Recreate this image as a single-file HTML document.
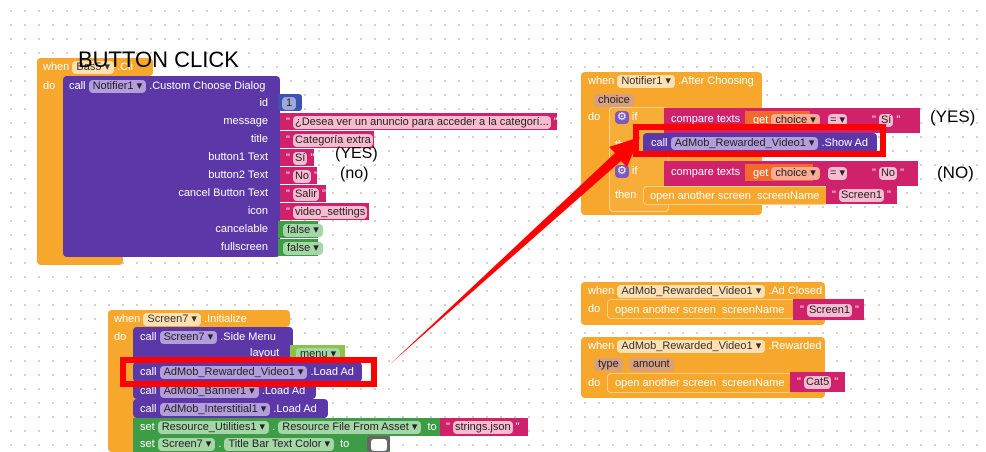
<!DOCTYPE html>
<html><head><meta charset="utf-8"><style>
body{margin:0;width:986px;height:452px;overflow:hidden;background:#fff;background-image:radial-gradient(#c8c8c8 0.8px,transparent 1.2px);background-size:14px 14px;background-position:4px 4px;position:relative;font-family:"Liberation Sans",sans-serif;font-size:11px;color:#fff}
div{position:absolute;box-sizing:border-box}
.o{background:#F6A72C;border-radius:4px}
.p{background:#5B37A8;border-radius:4px}
.m{background:#D0226B}
.g{background:#3E9B46}
.b{background:#3F52B0}
.t{white-space:nowrap;line-height:14px}
.pl{display:inline-block;background:rgba(255,255,255,.45);color:#222;border-radius:4px;padding:0 4px;line-height:13px}
.po{display:inline-block;background:#FFE0B2;color:#333;border-radius:4px;padding:0 4px;line-height:13px}
.pp{display:inline-block;background:#B39DDB;color:#222;border-radius:4px;padding:0 4px;line-height:13px}
.pg{display:inline-block;background:#A5D6A7;color:#222;border-radius:4px;padding:0 4px;line-height:13px}
.pm{display:inline-block;background:#F8BBD0;color:#222;border-radius:4px;padding:0 2px;line-height:13px}
.big{color:#000;font-family:"Liberation Sans",sans-serif;white-space:nowrap}
.rr{border:6px solid #f00;background:transparent}
</style></head><body>

<!-- Block 1 -->
<div class="o" style="left:37px;top:58px;width:116px;height:18px"></div>
<div class="o" style="left:37px;top:58px;width:86px;height:207px"></div>
<div class="t" style="left:43px;top:60px;color:#fff">when <span class="po">Bas5 ▾</span> .Cli</div>
<div class="t" style="left:43px;top:79px">do</div>
<div class="p" style="left:63px;top:76px;width:217px;height:181px"></div>
<div class="t" style="left:69px;top:79px">call <span class="pp">Notifier1 ▾</span> .Custom Choose Dialog</div>
<div class="t" style="left:60px;top:96px;width:208px;text-align:right">id</div>
<div class="t" style="left:60px;top:114px;width:208px;text-align:right">message</div>
<div class="t" style="left:60px;top:132px;width:208px;text-align:right">title</div>
<div class="t" style="left:60px;top:150px;width:208px;text-align:right">button1 Text</div>
<div class="t" style="left:60px;top:168px;width:208px;text-align:right">button2 Text</div>
<div class="t" style="left:60px;top:186px;width:208px;text-align:right">cancel Button Text</div>
<div class="t" style="left:60px;top:204px;width:208px;text-align:right">icon</div>
<div class="t" style="left:60px;top:222px;width:208px;text-align:right">cancelable</div>
<div class="t" style="left:60px;top:240px;width:208px;text-align:right">fullscreen</div>
<div class="b" style="left:278px;top:94px;width:24px;height:17px;border-radius:3px"></div>
<div class="t" style="left:282px;top:96px"><span class="pl" style="background:#9FA8DA">1</span></div>
<div class="m" style="left:280px;top:113px;width:277px;height:17px"></div>
<div class="t" style="left:286px;top:115px">" <span class="pm">¿Desea ver un anuncio para acceder a la categorí...</span> "</div>
<div class="m" style="left:280px;top:131px;width:94px;height:17px"></div>
<div class="t" style="left:286px;top:133px">" <span class="pm">Categoría extra</span> "</div>
<div class="m" style="left:280px;top:149px;width:34px;height:17px"></div>
<div class="t" style="left:286px;top:151px">" <span class="pm">Sí</span> "</div>
<div class="m" style="left:280px;top:167px;width:37px;height:17px"></div>
<div class="t" style="left:286px;top:169px">" <span class="pm">No</span> "</div>
<div class="m" style="left:280px;top:185px;width:46px;height:17px"></div>
<div class="t" style="left:286px;top:187px">" <span class="pm">Salir</span> "</div>
<div class="m" style="left:280px;top:203px;width:89px;height:17px"></div>
<div class="t" style="left:286px;top:205px">" <span class="pm">video_settings</span> "</div>
<div class="g" style="left:278px;top:221px;width:40px;height:17px"></div>
<div class="t" style="left:283px;top:223px"><span class="pg">false ▾</span></div>
<div class="g" style="left:278px;top:239px;width:40px;height:17px"></div>
<div class="t" style="left:283px;top:241px"><span class="pg">false ▾</span></div>
<div class="big" style="left:78px;top:47px;font-size:22px;line-height:26px">BUTTON CLICK</div>
<div class="big" style="left:335px;top:145px;font-size:16px">(YES)</div>
<div class="big" style="left:340px;top:165px;font-size:16px">(no)</div>

<!-- Block 2 -->
<div class="o" style="left:581px;top:72px;width:181px;height:143px"></div>
<div class="t" style="left:588px;top:74px">when <span class="po">Notifier1 ▾</span> .After Choosing</div>
<div class="t" style="left:594px;top:93px"><span class="pl" style="background:#D7A080">choice</span></div>
<div class="t" style="left:588px;top:110px">do</div>
<div style="left:609px;top:107px;width:60px;height:105px;background:#F7AE38;border-radius:4px;border:1px solid #fcd08a"></div>
<div class="t" style="left:615px;top:110px"><span class="pl" style="background:#7E57C2;color:#fff;padding:0 2px">⚙</span> if</div>
<div class="t" style="left:615px;top:138px">then</div>
<div class="t" style="left:615px;top:164px"><span class="pl" style="background:#7E57C2;color:#fff;padding:0 2px">⚙</span> if</div>
<div class="t" style="left:615px;top:188px">then</div>
<div class="m" style="left:664px;top:108px;width:256px;height:25px"></div>
<div class="t" style="left:671px;top:112px">compare texts</div>
<div style="left:745px;top:111px;width:65px;height:17px;background:#F06A2C"></div>
<div class="t" style="left:753px;top:113px">get <span class="pl" style="background:#FFAB91">choice ▾</span></div>
<div class="t" style="left:828px;top:113px"><span class="pm">= ▾</span></div>
<div class="t" style="left:872px;top:113px">" <span class="pm">Sí</span> "</div>
<div class="m" style="left:664px;top:161px;width:254px;height:25px"></div>
<div class="t" style="left:671px;top:165px">compare texts</div>
<div style="left:745px;top:164px;width:68px;height:17px;background:#F06A2C"></div>
<div class="t" style="left:753px;top:166px">get <span class="pl" style="background:#FFAB91">choice ▾</span></div>
<div class="t" style="left:828px;top:166px"><span class="pm">= ▾</span></div>
<div class="t" style="left:872px;top:166px">" <span class="pm">No</span> "</div>
<div class="o" style="left:643px;top:186px;width:185px;height:19px;border:1px solid #fcd08a"></div>
<div class="t" style="left:650px;top:189px">open another screen &nbsp;screenName</div>
<div class="m" style="left:826px;top:186px;width:71px;height:18px"></div>
<div class="t" style="left:832px;top:188px">" <span class="pm">Screen1</span> "</div>
<div class="p" style="left:643px;top:133px;width:234px;height:21px"></div>
<div class="t" style="left:651px;top:136px">call <span class="pp">AdMob_Rewarded_Video1 ▾</span> .Show Ad</div>
<div class="rr" style="left:633px;top:124px;width:253px;height:33px"></div>
<div class="big" style="left:930px;top:107px;font-size:17px">(YES)</div>
<div class="big" style="left:937px;top:163px;font-size:17px">(NO)</div>

<!-- Block 4/5 -->
<div class="o" style="left:581px;top:282px;width:244px;height:43px"></div>
<div class="t" style="left:588px;top:284px">when <span class="po">AdMob_Rewarded_Video1 ▾</span> .Ad Closed</div>
<div class="t" style="left:588px;top:302px">do</div>
<div class="o" style="left:607px;top:299px;width:188px;height:20px;border:1px solid #fcd08a"></div>
<div class="t" style="left:615px;top:303px">open another screen &nbsp;screenName</div>
<div class="m" style="left:793px;top:299px;width:71px;height:21px"></div>
<div class="t" style="left:800px;top:303px">" <span class="pm">Screen1</span> "</div>
<div class="o" style="left:581px;top:337px;width:244px;height:61px"></div>
<div class="t" style="left:588px;top:339px">when <span class="po">AdMob_Rewarded_Video1 ▾</span> .Rewarded</div>
<div class="t" style="left:594px;top:357px"><span class="pl" style="background:#D7A080">type</span> &nbsp;<span class="pl" style="background:#D7A080">amount</span></div>
<div class="t" style="left:588px;top:376px">do</div>
<div class="o" style="left:607px;top:373px;width:185px;height:20px;border:1px solid #fcd08a"></div>
<div class="t" style="left:615px;top:376px">open another screen &nbsp;screenName</div>
<div class="m" style="left:790px;top:372px;width:55px;height:20px"></div>
<div class="t" style="left:797px;top:375px">" <span class="pm">Cat5</span> "</div>

<!-- Block 3 -->
<div class="o" style="left:108px;top:310px;width:182px;height:17px"></div>
<div class="o" style="left:108px;top:310px;width:30px;height:142px"></div>
<div class="t" style="left:114px;top:312px">when <span class="po">Screen7 ▾</span> .Initialize</div>
<div class="t" style="left:114px;top:330px">do</div>
<div class="p" style="left:133px;top:327px;width:160px;height:33px"></div>
<div class="t" style="left:140px;top:330px">call <span class="pp">Screen7 ▾</span> .Side Menu</div>
<div class="t" style="left:250px;top:346px">layout</div>
<div class="g" style="left:290px;top:345px;width:55px;height:16px;background:#8BC34A"></div>
<div class="t" style="left:296px;top:347px"><span class="pg">menu ▾</span></div>
<div class="p" style="left:133px;top:382px;width:183px;height:17px"></div>
<div class="t" style="left:140px;top:384px">call <span class="pp">AdMob_Banner1 ▾</span> .Load Ad</div>
<div class="p" style="left:133px;top:399px;width:195px;height:19px"></div>
<div class="t" style="left:140px;top:402px">call <span class="pp">AdMob_Interstitial1 ▾</span> .Load Ad</div>
<div class="g" style="left:133px;top:418px;width:307px;height:18px"></div>
<div class="t" style="left:140px;top:420px">set <span class="pg">Resource_Utilities1 ▾</span> . <span class="pg">Resource File From Asset ▾</span> &nbsp;to</div>
<div class="m" style="left:440px;top:418px;width:88px;height:18px"></div>
<div class="t" style="left:446px;top:420px">" <span class="pm">strings.json</span> "</div>
<div class="g" style="left:133px;top:436px;width:257px;height:16px"></div>
<div class="t" style="left:140px;top:437px">set <span class="pg">Screen7 ▾</span> . <span class="pg">Title Bar Text Color ▾</span> &nbsp;to</div>
<div style="left:367px;top:436px;width:23px;height:16px;background:#666;border-radius:3px"></div>
<div style="left:371px;top:439px;width:16px;height:12px;background:#fff;border-radius:3px"></div>
<div class="p" style="left:133px;top:362px;width:229px;height:20px"></div>
<div class="t" style="left:140px;top:365px">call <span class="pp">AdMob_Rewarded_Video1 ▾</span> .Load Ad</div>
<div class="rr" style="left:120px;top:357px;width:257px;height:30px"></div>

<svg width="986" height="452" style="position:absolute;left:0;top:0">
<polygon points="388,366 615,153 609,147 640,137 627,167 621,161" fill="#f00"/>
</svg>
</body></html>
